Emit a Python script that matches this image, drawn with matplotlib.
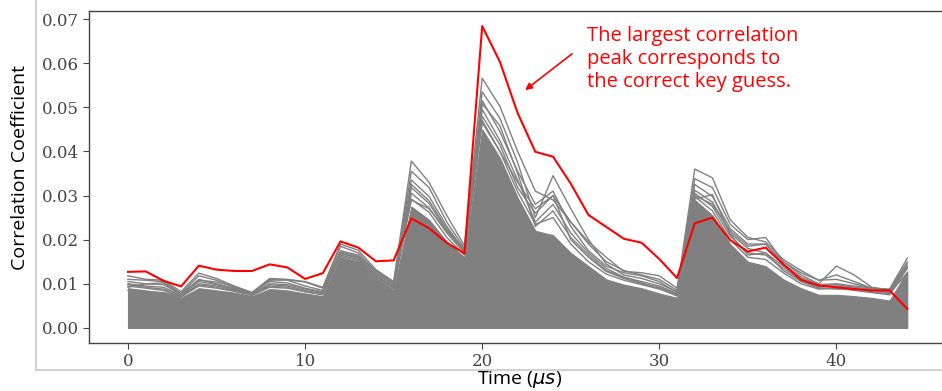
import numpy as np
import matplotlib.pyplot as plt
from matplotlib.lines import Line2D

# time samples (microseconds)
t = np.arange(45)

# correlation of the correct key guess
correct_key = [0.0127, 0.0128, 0.0107, 0.0094, 0.0141, 0.0132, 0.0129, 0.0129, 0.0144, 0.0137,
               0.0111, 0.0124, 0.0196, 0.0182, 0.0151, 0.0153, 0.0248, 0.0226, 0.0193, 0.0169,
               0.0684, 0.0603, 0.0487, 0.0399, 0.0388, 0.0327, 0.0256, 0.0229, 0.0202, 0.0193,
               0.0156, 0.0113, 0.0237, 0.0250, 0.0199, 0.0173, 0.0182, 0.0144, 0.0109, 0.0096,
               0.0092, 0.0088, 0.0085, 0.0085, 0.0043]

# top of the dense bundle of wrong key guesses
wrong_band = [0.0090, 0.0085, 0.0080, 0.0068, 0.0090, 0.0085, 0.0080, 0.0072, 0.0088, 0.0085,
              0.0078, 0.0072, 0.0160, 0.0150, 0.0115, 0.0085, 0.0275, 0.0245, 0.0195, 0.0160,
              0.0450, 0.0385, 0.0295, 0.0220, 0.0210, 0.0170, 0.0140, 0.0110, 0.0098, 0.0090,
              0.0078, 0.0068, 0.0290, 0.0255, 0.0190, 0.0150, 0.0140, 0.0110, 0.0090, 0.0075,
              0.0075, 0.0072, 0.0068, 0.0062, 0.0128]

# wrong key guesses that stand above the bundle
wrong_1 = [0.0118, 0.0110, 0.0108, 0.0082, 0.0124, 0.0112, 0.0095, 0.0080, 0.0112, 0.0110,
           0.0105, 0.0092, 0.0190, 0.0176, 0.0132, 0.0105, 0.0378, 0.0330, 0.0255, 0.0186,
           0.0566, 0.0502, 0.0400, 0.0310, 0.0290, 0.0240, 0.0190, 0.0150, 0.0130, 0.0120,
           0.0110, 0.0085, 0.0360, 0.0340, 0.0245, 0.0205, 0.0195, 0.0155, 0.0130, 0.0108,
           0.0110, 0.0100, 0.0090, 0.0088, 0.0158]
wrong_2 = [0.0110, 0.0108, 0.0105, 0.0078, 0.0118, 0.0108, 0.0092, 0.0078, 0.0110, 0.0108,
           0.0095, 0.0085, 0.0185, 0.0170, 0.0128, 0.0100, 0.0355, 0.0318, 0.0240, 0.0180,
           0.0535, 0.0475, 0.0375, 0.0250, 0.0345, 0.0270, 0.0200, 0.0145, 0.0120, 0.0112,
           0.0100, 0.0082, 0.0338, 0.0318, 0.0235, 0.0200, 0.0205, 0.0150, 0.0120, 0.0100,
           0.0140, 0.0120, 0.0092, 0.0086, 0.0150]
wrong_3 = [0.0105, 0.0100, 0.0098, 0.0076, 0.0110, 0.0100, 0.0090, 0.0078, 0.0105, 0.0102,
           0.0090, 0.0082, 0.0175, 0.0165, 0.0125, 0.0098, 0.0335, 0.0298, 0.0230, 0.0175,
           0.0515, 0.0445, 0.0355, 0.0280, 0.0310, 0.0230, 0.0175, 0.0140, 0.0125, 0.0118,
           0.0105, 0.0080, 0.0325, 0.0298, 0.0225, 0.0190, 0.0190, 0.0145, 0.0115, 0.0098,
           0.0100, 0.0095, 0.0090, 0.0085, 0.0145]
wrong_4 = [0.0100, 0.0095, 0.0092, 0.0074, 0.0105, 0.0098, 0.0088, 0.0076, 0.0100, 0.0098,
           0.0088, 0.0080, 0.0170, 0.0160, 0.0122, 0.0095, 0.0318, 0.0282, 0.0220, 0.0172,
           0.0495, 0.0425, 0.0335, 0.0240, 0.0280, 0.0215, 0.0170, 0.0135, 0.0115, 0.0105,
           0.0095, 0.0078, 0.0312, 0.0285, 0.0215, 0.0180, 0.0170, 0.0140, 0.0112, 0.0095,
           0.0098, 0.0092, 0.0088, 0.0082, 0.0140]
wrong_5 = [0.0098, 0.0092, 0.0088, 0.0072, 0.0100, 0.0095, 0.0086, 0.0075, 0.0098, 0.0095,
           0.0085, 0.0078, 0.0168, 0.0158, 0.0120, 0.0092, 0.0305, 0.0272, 0.0215, 0.0170,
           0.0480, 0.0415, 0.0318, 0.0260, 0.0300, 0.0200, 0.0160, 0.0128, 0.0112, 0.0100,
           0.0092, 0.0076, 0.0305, 0.0275, 0.0208, 0.0170, 0.0165, 0.0135, 0.0108, 0.0092,
           0.0095, 0.0090, 0.0085, 0.0080, 0.0138]
wrong_6 = [0.0095, 0.0090, 0.0085, 0.0070, 0.0098, 0.0092, 0.0084, 0.0074, 0.0095, 0.0092,
           0.0082, 0.0076, 0.0165, 0.0155, 0.0118, 0.0090, 0.0292, 0.0262, 0.0205, 0.0165,
           0.0465, 0.0400, 0.0308, 0.0235, 0.0250, 0.0190, 0.0150, 0.0122, 0.0108, 0.0098,
           0.0088, 0.0074, 0.0298, 0.0265, 0.0200, 0.0160, 0.0155, 0.0125, 0.0100, 0.0088,
           0.0090, 0.0085, 0.0080, 0.0075, 0.0135]
wrong_7 = [0.0092, 0.0100, 0.0102, 0.0076, 0.0108, 0.0104, 0.0094, 0.0080, 0.0108, 0.0109,
           0.0104, 0.0090, 0.0172, 0.0162, 0.0130, 0.0102, 0.0290, 0.0270, 0.0220, 0.0178,
           0.0470, 0.0400, 0.0330, 0.0270, 0.0300, 0.0240, 0.0195, 0.0160, 0.0128, 0.0125,
           0.0118, 0.0090, 0.0300, 0.0280, 0.0220, 0.0185, 0.0190, 0.0150, 0.0125, 0.0108,
           0.0120, 0.0105, 0.0090, 0.0086, 0.0120]
wrong_8 = [0.0085, 0.0082, 0.0080, 0.0070, 0.0095, 0.0090, 0.0083, 0.0074, 0.0092, 0.0090,
           0.0082, 0.0075, 0.0162, 0.0152, 0.0118, 0.0088, 0.0325, 0.0288, 0.0225, 0.0175,
           0.0508, 0.0458, 0.0350, 0.0230, 0.0265, 0.0205, 0.0165, 0.0130, 0.0115, 0.0102,
           0.0090, 0.0072, 0.0292, 0.0302, 0.0212, 0.0165, 0.0170, 0.0130, 0.0105, 0.0090,
           0.0088, 0.0088, 0.0082, 0.0078, 0.0125]
wrong_lines = [wrong_1, wrong_2, wrong_3, wrong_4, wrong_5, wrong_6, wrong_7, wrong_8]

fig = plt.figure(figsize=(9.42, 3.91), dpi=100)
ax = fig.add_axes([0.0945, 0.1228, 0.91, 0.8491])

grey = '#808080'
ax.fill_between(t, 0, wrong_band, color=grey, lw=0.8)
for w in wrong_lines:
    ax.plot(t, w, color=grey, lw=1.0)
ax.plot(t, correct_key, color='red', lw=1.5, zorder=5)

ax.margins(x=0.05, y=0.05)
ax.set_xticks([0, 10, 20, 30, 40])
ax.set_yticks(np.arange(0, 0.071, 0.01))
ax.yaxis.set_major_formatter(plt.FormatStrFormatter('%.2f'))
for lab in ax.get_xticklabels() + ax.get_yticklabels():
    lab.set_family('DejaVu Serif')
    lab.set_fontsize(12)
    lab.set_color('#222222')
ax.tick_params(colors='#444444', length=4, width=0.8)
for s in ax.spines.values():
    s.set_color('#444444')
    s.set_linewidth(1.0)

fig.text(20 / 942, 1 - 167 / 391, 'Correlation Coefficient', rotation=90,
         ha='center', va='center', fontsize=14, family='Open Sans')
fig.text(520 / 942, 1 - 380 / 391, r'Time ($\mu s$)', ha='center', va='center',
         fontsize=14, family='Open Sans')

ax.text(0.5815, 0.955, 'The largest correlation\npeak corresponds to\nthe correct key guess.',
        transform=ax.transAxes, color='red', fontsize=14.5, family='Open Sans',
        va='top', ha='left', linespacing=1.2)
ax.annotate('', xy=(22.3, 0.0535), xytext=(25.2, 0.0625),
            arrowprops=dict(arrowstyle='-|>', color='red', lw=1.2, mutation_scale=10))

# light frame around the plot
fig.add_artist(Line2D([36 / 942, 36 / 942], [1 - 370 / 391, 1.0], color='#c8c8c8', lw=1.2))
fig.add_artist(Line2D([36 / 942, 1.0], [1 - 370 / 391, 1 - 370 / 391], color='#c8c8c8', lw=1.2))

fig.savefig('out.png', dpi=100, facecolor='white')
